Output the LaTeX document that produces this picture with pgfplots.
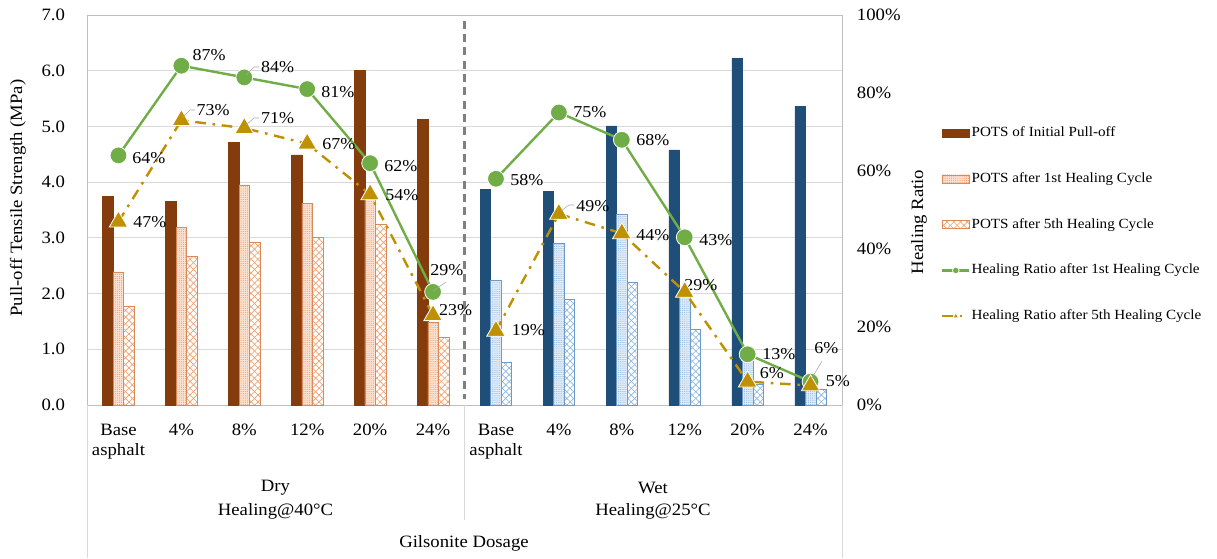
\documentclass[border=0pt]{standalone}
\usepackage{fontspec}
\setmainfont[FakeStretch=1.08]{Liberation Serif}
\usepackage{pgfplots}
\pgfplotsset{compat=1.18}
\usetikzlibrary{patterns,patterns.meta}
\definecolor{cBrown}{HTML}{843C0C}
\definecolor{cOrEdge}{HTML}{D9895A}
\definecolor{cOrPat}{HTML}{F0A070}
\definecolor{cPeach}{HTML}{FBE3D3}
\definecolor{cBlue}{HTML}{1F4E79}
\definecolor{cBlEdge}{HTML}{6A9BCB}
\definecolor{cBlPat}{HTML}{8DB7E0}
\definecolor{cBlLight}{HTML}{E2EDF8}
\definecolor{cGreen}{HTML}{70AD47}
\definecolor{cGold}{HTML}{BF9000}
\definecolor{cGrid}{HTML}{D9D9D9}
\definecolor{cAxis}{HTML}{BFBFBF}
\definecolor{cDash}{HTML}{808080}
\pgfplotsset{
  /pgf/number format/assume math mode=true,
  mybarlegend/.style={legend image code/.code={\draw[##1] (0pt,-3pt) rectangle (20pt,3pt);}},
  mylinelegend/.style={legend image code/.code={\draw[##1, mark size=2.5pt, mark repeat=2, mark phase=2] plot coordinates {(0pt,0pt)(10pt,0pt)(20pt,0pt)};}},
}
\tikzset{
  hatchA/.style={postaction={pattern={Lines[angle=45,distance=3.6pt,line width=0.5pt]}, pattern color=#1},
                 postaction={pattern={Lines[angle=-45,distance=3.6pt,line width=0.5pt]}, pattern color=#1}},
  dotsA/.style={postaction={pattern={Dots[distance=1.6pt,radius=0.45pt]}, pattern color=#1}},
}
\begin{document}
\begin{tikzpicture}[font=\fontsize{13pt}{15.6pt}\selectfont]
\useasboundingbox (0,0) rectangle (912.75pt,418.5pt);
\begin{axis}[
  at={(65.25pt,114.75pt)}, anchor=south west,
  scale only axis, width=566.25pt, height=292.5pt,
  xmin=-0.5, xmax=11.5, ymin=0, ymax=7,
  axis line style={draw=cAxis},
  ytick={0,1,...,7},
  yticklabel style={/pgf/number format/fixed, /pgf/number format/fixed zerofill, /pgf/number format/precision=1, xshift=-13pt},
  ymajorgrids, grid style={draw=cGrid, line width=0.75pt},
  xtick={0,...,11},
  xticklabels={{Base\\asphalt},{4\%},{8\%},{12\%},{20\%},{24\%},{Base\\asphalt},{4\%},{8\%},{12\%},{20\%},{24\%}},
  xticklabel style={align=center, anchor=north, yshift=-10.5pt},
  major tick length=0pt,
  ybar, bar width=0.167,
  clip=false,
]
% Dry
\addplot[fill=cBrown, draw=cBrown, bar shift=-0.167] coordinates {(0,3.74)(1,3.66)(2,4.71)(3,4.49)(4,6.01)(5,5.13)};
\addplot[fill=cPeach, draw=cOrEdge, bar shift=0, dotsA=cOrPat] coordinates {(0,2.39)(1,3.19)(2,3.95)(3,3.62)(4,3.73)(5,1.49)};
\addplot[fill=white, draw=cOrEdge, bar shift=0.167, hatchA=cOrPat] coordinates {(0,1.78)(1,2.67)(2,2.92)(3,3.01)(4,3.25)(5,1.21)};
% Wet
\addplot[fill=cBlue, draw=cBlue, bar shift=-0.167] coordinates {(6,3.87)(7,3.84)(8,5.01)(9,4.58)(10,6.22)(11,5.36)};
\addplot[fill=cBlLight, draw=cBlEdge, bar shift=0, dotsA=cBlPat] coordinates {(6,2.24)(7,2.90)(8,3.42)(9,1.97)(10,0.81)(11,0.32)};
\addplot[fill=white, draw=cBlEdge, bar shift=0.167, hatchA=cBlPat] coordinates {(6,0.76)(7,1.90)(8,2.20)(9,1.36)(10,0.38)(11,0.29)};
\draw[cDash, line width=2.25pt, dash pattern=on 6pt off 4pt] (axis cs:5.5,6.9) -- (axis cs:5.5,0.1);
\end{axis}
\begin{axis}[
  at={(65.25pt,114.75pt)}, anchor=south west,
  scale only axis, width=566.25pt, height=292.5pt,
  xmin=-0.5, xmax=11.5, ymin=0, ymax=100,
  axis x line=none, axis y line*=right, y axis line style={draw=none},
  ytick={0,20,...,100}, yticklabel={\pgfmathprintnumber{\tick}\%},
  yticklabel style={xshift=7.7pt},
  major tick length=0pt,
  clip=false,
  legend cell align=left,
  legend style={at={(1.1311,0.7180)}, anchor=north west, draw=none, fill=none,
    font=\fontsize{10.5pt}{12pt}\selectfont, row sep=22.3pt, inner sep=0pt,
    nodes={inner sep=1pt, text height=7.5pt, text depth=2.5pt}},
]
\addlegendimage{mybarlegend, fill=cBrown, draw=cBrown}
\addlegendentry{POTS of Initial Pull-off}
\addlegendimage{mybarlegend, fill=cPeach, draw=cOrEdge, dotsA=cOrPat}
\addlegendentry{POTS after 1st Healing Cycle}
\addlegendimage{mybarlegend, fill=white, draw=cOrEdge, hatchA=cOrPat}
\addlegendentry{POTS after 5th Healing Cycle}
\addplot[mylinelegend, color=cGreen, line width=1.8pt, mark=*, mark size=6.3pt, mark options={fill=cGreen, draw=white, line width=0.6pt}] coordinates {(0,64)(1,87)(2,84)(3,81)(4,62)(5,29)};
\addlegendentry{Healing Ratio after 1st Healing Cycle}
\addplot[mylinelegend, color=cGold, line width=1.8pt, dash pattern=on 8pt off 5pt on 2pt off 5pt, mark=triangle*, mark size=8pt, mark options={solid, fill=cGold, draw=white, line width=0.6pt}] coordinates {(0,47)(1,73)(2,71)(3,67)(4,54)(5,23)};
\addlegendentry{Healing Ratio after 5th Healing Cycle}
\addplot[forget plot, color=cGreen, line width=1.8pt, mark=*, mark size=6.3pt, mark options={fill=cGreen, draw=white, line width=0.6pt}] coordinates {(6,58)(7,75)(8,68)(9,43)(10,13)(11,6)};
\addplot[forget plot, color=cGold, line width=1.8pt, dash pattern=on 8pt off 5pt on 2pt off 5pt, mark=triangle*, mark size=8pt, mark options={solid, fill=cGold, draw=white, line width=0.6pt}] coordinates {(6,19)(7,49)(8,44)(9,29)(10,6)(11,5)};
\begin{scope}[font=\fontsize{12.5pt}{14pt}\selectfont]
\node at (axis cs:0.485,63.3) {64\%};
\node at (axis cs:1.439,89.7) {87\%};
\node at (axis cs:2.528,86.7) {84\%};
\node at (axis cs:3.489,80.3) {81\%};
\node at (axis cs:4.49,61.3) {62\%};
\node at (axis cs:5.221,34.6) {29\%};
\node at (axis cs:0.501,46.9) {47\%};
\node at (axis cs:1.503,75.6) {73\%};
\node at (axis cs:2.528,73.6) {71\%};
\node at (axis cs:3.505,66.9) {67\%};
\node at (axis cs:4.506,53.8) {54\%};
\node at (axis cs:5.357,24.4) {23\%};
\node at (axis cs:6.493,57.7) {58\%};
\node at (axis cs:7.494,75.1) {75\%};
\node at (axis cs:8.495,67.9) {68\%};
\node at (axis cs:9.497,42.3) {43\%};
\node at (axis cs:10.498,13.1) {13\%};
\node at (axis cs:11.253,14.6) {6\%};
\node at (axis cs:6.517,19.2) {19\%};
\node at (axis cs:7.542,51.0) {49\%};
\node at (axis cs:8.495,43.6) {44\%};
\node at (axis cs:9.258,30.8) {29\%};
\node at (axis cs:10.386,8.2) {6\%};
\node at (axis cs:11.435,6.2) {5\%};
\end{scope}
\end{axis}
\begin{scope}[x=0.75pt, y=-0.75pt, shift={(0pt,418.5pt)}]
\draw[cGrid, line width=0.75pt] (87,405) -- (87,558);
\draw[cGrid, line width=0.75pt] (464,405) -- (464,520);
\draw[cGrid, line width=0.75pt] (842,405) -- (842,558);
\node at (275.5,488) {Dry};
\node at (275.5,511) {Healing@40°C};
\node at (653,488) {Wet};
\node at (653,511) {Healing@25°C};
\node at (464,543) {Gilsonite Dosage};
\node[rotate=90] at (18,198) {Pull-off Tensile Strength (MPa)};
\node[rotate=90] at (919,222) {Healing Ratio};
\draw[gray!70, line width=0.4pt] (246,75) -- (254,67) -- (259,67);
\draw[gray!70, line width=0.4pt] (183,117) -- (190,110) -- (195,110);
\draw[gray!70, line width=0.4pt] (246,125) -- (254,118) -- (259,118);
\draw[gray!70, line width=0.4pt] (561,211) -- (569,205) -- (574,205);
\draw[gray!70, line width=0.4pt] (433,291) -- (446,282);
\draw[gray!70, line width=0.4pt] (812,378) -- (822,361);
\end{scope}
\end{tikzpicture}
\end{document}
